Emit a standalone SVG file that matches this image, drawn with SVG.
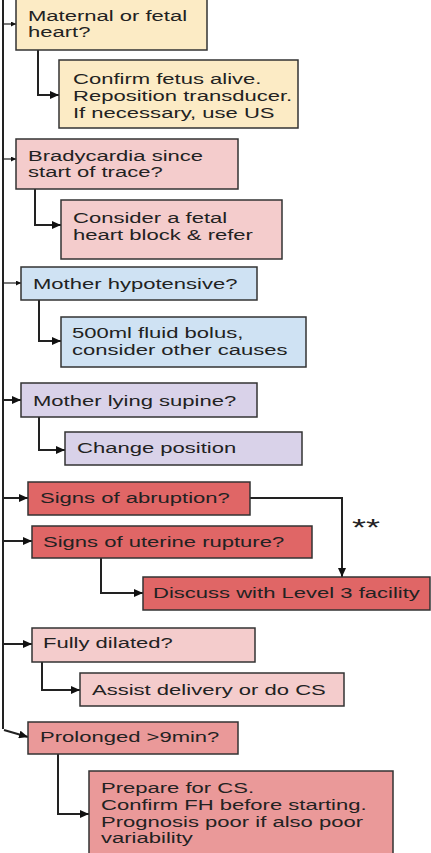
<svg xmlns="http://www.w3.org/2000/svg" width="431" height="853" viewBox="0 0 431 853">
<style>
.box{stroke:#333;stroke-width:1.5}
.yel{fill:#fcebc5}
.pink{fill:#f4cccc}
.blue{fill:#cfe2f3}
.purp{fill:#d9d2e9}
.red{fill:#e06666}
.lred{fill:#ea9999}
.t{font-family:"Liberation Sans",Arial,sans-serif;font-size:14.5px;fill:#222}
.c{fill:none;stroke:#222;stroke-width:2}
.ct{fill:none;stroke:#222;stroke-width:1.2}
</style>
<defs>
<marker id="ah" markerUnits="userSpaceOnUse" markerWidth="10" markerHeight="8" refX="9" refY="4" orient="auto">
<path d="M0,0 L9,4 L0,8 Z" fill="#111"/>
</marker>
<marker id="ahs" markerUnits="userSpaceOnUse" markerWidth="6" markerHeight="5" refX="5" refY="2.5" orient="auto">
<path d="M0,0 L5,2.5 L0,5 Z" fill="#111"/>
</marker>
</defs>
<rect width="431" height="853" fill="#fff"/>

<g id="connectors">
<line class="c" x1="3" y1="0" x2="3" y2="729"/>
<line class="ct" x1="3" y1="24" x2="16" y2="24" marker-end="url(#ahs)"/>
<line class="ct" x1="3" y1="159" x2="16" y2="159" marker-end="url(#ahs)"/>
<line class="ct" x1="3" y1="283" x2="21" y2="283" marker-end="url(#ahs)"/>
<line class="c" x1="3" y1="400" x2="21" y2="400" marker-end="url(#ah)"/>
<line class="c" x1="3" y1="498" x2="28" y2="498" marker-end="url(#ah)"/>
<line class="c" x1="3" y1="541" x2="32" y2="541" marker-end="url(#ah)"/>
<line class="c" x1="3" y1="644" x2="32" y2="644" marker-end="url(#ah)"/>
<line class="c" x1="4" y1="730" x2="28" y2="737" marker-end="url(#ah)"/>
<path class="c" d="M38,50 V95 H59" marker-end="url(#ah)"/>
<path class="c" d="M35,189 V225 H61" marker-end="url(#ah)"/>
<path class="c" d="M39,300 V341 H61" marker-end="url(#ah)"/>
<path class="c" d="M39,417 V450 H65" marker-end="url(#ah)"/>
<path class="c" d="M250,498 H342 V577" marker-end="url(#ah)"/>
<path class="c" d="M101,558 V593 H143" marker-end="url(#ah)"/>
<path class="c" d="M42,662 V690 H80" marker-end="url(#ah)"/>
<path class="c" d="M58,754 V814 H89" marker-end="url(#ah)"/>
<text class="t" style="font-size:24px" transform="translate(352 536) scale(1.5 1)">**</text>
</g>

<g id="n1"><rect class="box yel" x="16" y="-2" width="191" height="52"/>
<text class="t" transform="translate(28 21) scale(1.52 1)"><tspan x="0">Maternal or fetal</tspan><tspan x="0" dy="16.5">heart?</tspan></text></g>

<g id="n2"><rect class="box yel" x="59" y="60" width="239" height="68"/>
<text class="t" transform="translate(73 84) scale(1.52 1)"><tspan x="0">Confirm fetus alive.</tspan><tspan x="0" dy="17">Reposition transducer.</tspan><tspan x="0" dy="17">If necessary, use US</tspan></text></g>

<g id="n3"><rect class="box pink" x="16" y="139" width="222" height="50"/>
<text class="t" transform="translate(28 161) scale(1.52 1)"><tspan x="0">Bradycardia since</tspan><tspan x="0" dy="16.5">start of trace?</tspan></text></g>

<g id="n4"><rect class="box pink" x="61" y="200" width="221" height="59"/>
<text class="t" transform="translate(73 223) scale(1.52 1)"><tspan x="0">Consider a fetal</tspan><tspan x="0" dy="17">heart block &amp; refer</tspan></text></g>

<g id="n5"><rect class="box blue" x="21" y="267" width="236" height="33"/>
<text class="t" transform="translate(33 289) scale(1.52 1)">Mother hypotensive?</text></g>

<g id="n6"><rect class="box blue" x="61" y="317" width="245" height="50"/>
<text class="t" transform="translate(72 338) scale(1.52 1)"><tspan x="0">500ml fluid bolus,</tspan><tspan x="0" dy="17">consider other causes</tspan></text></g>

<g id="n7"><rect class="box purp" x="21" y="383" width="236" height="34"/>
<text class="t" transform="translate(33 406) scale(1.52 1)">Mother lying supine?</text></g>

<g id="n8"><rect class="box purp" x="65" y="432" width="237" height="33"/>
<text class="t" transform="translate(77 453) scale(1.52 1)">Change position</text></g>

<g id="n9"><rect class="box red" x="28" y="482" width="222" height="33"/>
<text class="t" transform="translate(40 503) scale(1.52 1)">Signs of abruption?</text></g>

<g id="n10"><rect class="box red" x="32" y="526" width="280" height="32"/>
<text class="t" transform="translate(43 547) scale(1.52 1)">Signs of uterine rupture?</text></g>

<g id="n11"><rect class="box red" x="143" y="577" width="287" height="33"/>
<text class="t" transform="translate(153 598) scale(1.52 1)">Discuss with Level 3 facility</text></g>

<g id="n12"><rect class="box pink" x="32" y="628" width="223" height="34"/>
<text class="t" transform="translate(43 648) scale(1.52 1)">Fully dilated?</text></g>

<g id="n13"><rect class="box pink" x="80" y="673" width="264" height="33"/>
<text class="t" transform="translate(92 695) scale(1.52 1)">Assist delivery or do CS</text></g>

<g id="n14"><rect class="box lred" x="28" y="722" width="210" height="32"/>
<text class="t" transform="translate(40 742) scale(1.52 1)">Prolonged &gt;9min?</text></g>

<g id="n15"><rect class="box lred" x="89" y="771" width="304" height="90"/>
<text class="t" transform="translate(101 793) scale(1.52 1)"><tspan x="0">Prepare for CS.</tspan><tspan x="0" dy="17">Confirm FH before starting.</tspan><tspan x="0" dy="17">Prognosis poor if also poor</tspan><tspan x="0" dy="16.5">variability</tspan></text></g>
</svg>
